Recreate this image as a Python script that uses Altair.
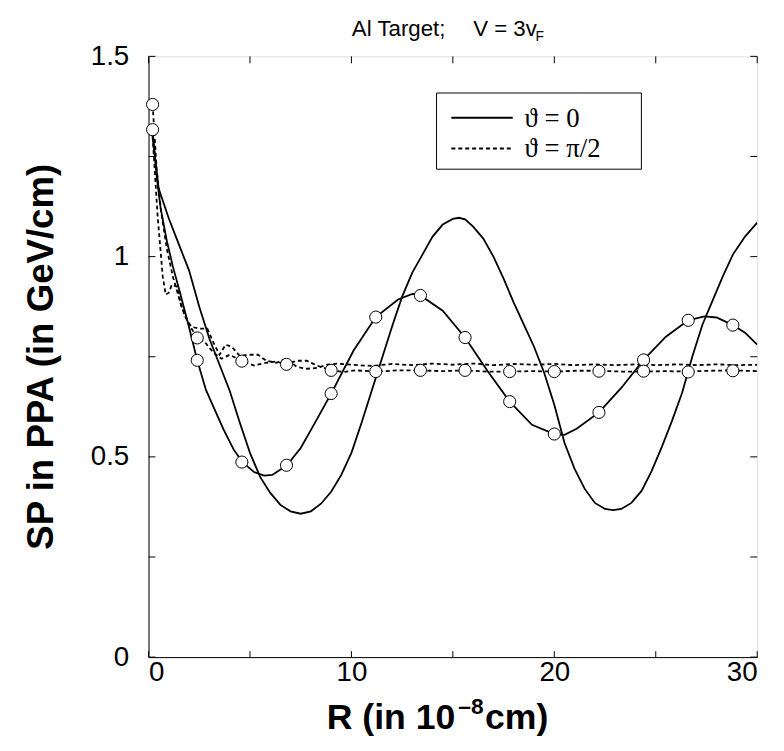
import altair as alt
import pandas as pd

# ---------------- data ----------------
# solid curve with circles (theta = 0, model 1)
xA = [0.2, 0.4, 0.6, 0.9, 1.2, 1.53, 2.0, 2.4, 2.83, 3.2, 3.7, 4.2, 4.63, 5.2, 5.7, 6.1,
      6.82, 7.5, 8.2, 9.0, 10.1, 11.2, 12.3, 13.0, 13.4, 14.5, 15.6, 16.7, 17.8, 18.9,
      20.0, 20.5, 21.1, 22.2, 23.3, 24.4, 25.5, 26.6, 27.4, 28.0, 28.8, 29.4, 30.0]
yA = [1.317, 1.20, 1.12, 1.04, 0.975, 0.914, 0.823, 0.741, 0.667, 0.625, 0.568, 0.518, 0.487, 0.462, 0.453, 0.455,
      0.479, 0.522, 0.585, 0.658, 0.765, 0.849, 0.893, 0.907, 0.903, 0.865, 0.798, 0.715, 0.638, 0.58,
      0.557, 0.555, 0.57, 0.611, 0.672, 0.742, 0.800, 0.841, 0.851, 0.848, 0.829, 0.81, 0.78]

# solid curve without circles (theta = 0, model 2)
xC = [0.2, 0.5, 1.0, 1.5, 2.0, 2.5, 3.0, 3.5, 4.0, 4.5, 5.0, 5.5, 6.0, 6.5, 7.0, 7.5, 8.0, 8.5,
      9.0, 9.5, 10.0, 10.5, 11.0, 11.5, 12.0, 12.5, 13.0, 13.5, 14.0, 14.5, 15.0, 15.3, 15.6,
      16.0, 16.5, 17.0, 17.5, 18.0, 18.5, 19.0, 19.5, 20.0, 20.5, 21.0, 21.5, 22.0, 22.5, 22.9,
      23.3, 23.8, 24.3, 24.8, 25.3, 25.8, 26.3, 26.8, 27.3, 27.8, 28.3, 28.8, 29.4, 30.0]
yC = [1.30, 1.17, 1.095, 1.03, 0.965, 0.875, 0.795, 0.73, 0.665, 0.585, 0.51, 0.45, 0.41, 0.38, 0.364, 0.358, 0.364, 0.383,
      0.413, 0.455, 0.51, 0.585, 0.665, 0.745, 0.825, 0.90, 0.96, 1.005, 1.05, 1.08, 1.094, 1.097, 1.093,
      1.075, 1.045, 1.0, 0.945, 0.885, 0.83, 0.775, 0.71, 0.63, 0.535, 0.47, 0.42, 0.385, 0.37, 0.367,
      0.37, 0.385, 0.415, 0.465, 0.525, 0.59, 0.66, 0.75, 0.83, 0.89, 0.95, 1.005, 1.05, 1.085]

# dashed curve without circles (theta = pi/2, model 2)
xB = [0.2, 0.45, 0.7, 0.85, 1.0, 1.15, 1.4, 1.6, 1.8, 2.1, 2.5, 2.9, 3.2, 3.5, 3.8, 4.1, 4.5, 4.9,
      5.4, 5.8, 6.3, 6.8, 7.3, 7.8, 8.3, 8.8, 9.3, 10, 11, 12, 13, 14, 15, 16, 17, 18, 19, 20,
      21, 22, 23, 24, 25, 26, 27, 28, 29, 30]
yB = [1.30, 1.10, 0.95, 0.905, 0.91, 0.93, 0.925, 0.88, 0.85, 0.825, 0.82, 0.82, 0.785, 0.755, 0.78, 0.775, 0.752, 0.755,
      0.755, 0.74, 0.735, 0.745, 0.725, 0.72, 0.722, 0.73, 0.733, 0.73, 0.727, 0.732, 0.729, 0.733, 0.73, 0.733, 0.729, 0.732, 0.73, 0.732,
      0.729, 0.731, 0.729, 0.731, 0.729, 0.731, 0.729, 0.731, 0.729, 0.73]

# dashed curve with circles (theta = pi/2, model 1)
xD = [0.2, 0.4, 0.6, 0.9, 1.2, 1.6, 2.0, 2.4, 2.8, 3.2, 3.6, 4.0, 4.6, 5.2, 5.8, 6.3, 6.8, 7.3,
      7.8, 8.3, 9.0, 9.6, 10.2, 11.2, 12.3, 13.4, 14.5, 15.6, 16.7, 17.8, 18.9, 20.0, 21.1, 22.2,
      23.3, 24.4, 25.5, 26.6, 27.7, 28.8, 30.0]
yD = [1.38, 1.22, 1.12, 1.02, 0.95, 0.88, 0.83, 0.797, 0.785, 0.76, 0.745, 0.755, 0.739, 0.728, 0.735, 0.738, 0.731, 0.74,
      0.74, 0.728, 0.716, 0.712, 0.716, 0.713, 0.716, 0.716, 0.714, 0.716, 0.713, 0.713, 0.714, 0.713, 0.715, 0.715,
      0.713, 0.713, 0.714, 0.713, 0.715, 0.716, 0.714]

# circle markers
circ_x = [0.2, 2.4, 4.6, 6.8, 9.0, 11.2, 13.4, 15.6, 17.8, 20.0, 22.2, 24.4, 26.6, 28.8]
circA_y = [1.317, 0.741, 0.487, 0.479, 0.658, 0.849, 0.903, 0.798, 0.638, 0.557, 0.611, 0.742, 0.841, 0.829]
circD_y = [1.38, 0.797, 0.739, 0.731, 0.716, 0.713, 0.716, 0.716, 0.713, 0.713, 0.714, 0.714, 0.712, 0.715]

x_ticks = [0, 5, 10, 15, 20, 25, 30]
y_ticks = [0, 0.25, 0.5, 0.75, 1.0, 1.25, 1.5]
x_labels = [0, 10, 20, 30]
y_labels = [0, 0.5, 1.0, 1.5]

W, H = 615, 607
SANS = "Liberation Sans, Arial, sans-serif"
SERIF = "Liberation Serif, Times New Roman, serif"

xs = alt.Scale(domain=[0, 30], nice=False, zero=False)
ys = alt.Scale(domain=[0, 1.5], nice=False, zero=False)
xaxis = alt.Axis(values=x_labels, ticks=False, grid=False, title=None, labelFontSize=28,
                 labelFont=SANS, labelColor="black", labelPadding=2, domainColor="black",
                 labelExpr="datum.value")
yaxis = alt.Axis(values=y_labels, ticks=False, grid=False, title=None, labelFontSize=28,
                 labelFont=SANS, labelColor="black", labelPadding=20, domainColor="black",
                 labelExpr="format(datum.value, '~g')")
xenc = alt.X("x:Q", scale=xs, axis=xaxis)
yenc = alt.Y("y:Q", scale=ys, axis=yaxis)

def line(xv, yv, dashed):
    kw = dict(color="black", strokeWidth=1.8, clip=True)
    if dashed:
        kw["strokeDash"] = [4, 3]
    return alt.Chart(pd.DataFrame({"x": xv, "y": yv})).mark_line(**kw).encode(x=xenc, y=yenc)

def circles(xv, yv):
    return alt.Chart(pd.DataFrame({"x": xv, "y": yv})).mark_point(
        shape="circle", size=150, filled=True, fill="white", stroke="black", strokeWidth=1, opacity=1
    ).encode(x=xenc, y=yenc)

one = pd.DataFrame({"d": [0]})

def text(t, x, y, size, font=SANS, weight="normal", align="left", baseline="alphabetic", angle=0):
    kw = dict(text=t, fontSize=size, font=font, fontWeight=weight, align=align,
              baseline=baseline, color="black")
    if angle:
        kw["angle"] = angle
    return alt.Chart(one).mark_text(**kw).encode(x=alt.value(x), y=alt.value(y))

xt = pd.DataFrame({"x": x_ticks})
yt = pd.DataFrame({"y": y_ticks})
ticks = [
    alt.Chart(xt).mark_rule(color="black", strokeWidth=1).encode(x=xenc, y=alt.value(H), y2=alt.value(H - 6)),
    alt.Chart(xt).mark_rule(color="black", strokeWidth=1).encode(x=xenc, y=alt.value(0), y2=alt.value(7)),
    alt.Chart(yt).mark_rule(color="black", strokeWidth=1).encode(y=yenc, x=alt.value(0), x2=alt.value(7)),
    alt.Chart(yt).mark_rule(color="black", strokeWidth=1).encode(y=yenc, x=alt.value(W), x2=alt.value(W - 7)),
]

legend = [
    alt.Chart(one).mark_rect(fill="white", stroke="black", strokeWidth=1).encode(
        x=alt.value(291), x2=alt.value(498), y=alt.value(37), y2=alt.value(114)),
    alt.Chart(one).mark_rule(color="black", strokeWidth=2).encode(
        x=alt.value(306), x2=alt.value(368), y=alt.value(62)),
    alt.Chart(one).mark_rule(color="black", strokeWidth=2, strokeDash=[4, 3]).encode(
        x=alt.value(306), x2=alt.value(368), y=alt.value(93)),
    text("\u03d1 = 0", 380, 63, 27, font=SERIF, baseline="middle"),
    text("\u03d1 = \u03c0/2", 380, 94, 27, font=SERIF, baseline="middle"),
]

labels = [
    text("Al Target;", 300, -21, 22.5, align="right"),
    text("V = 3v", 328, -21, 22.5),
    text("F", 391, -16, 14),
    text("R (in 10", 310, 680, 36, weight="bold", align="right"),
    text("\u20138", 313, 664, 23, weight="bold"),
    text("cm)", 340, 680, 36, weight="bold"),
    text("SP in PPA (in GeV/cm)", -108, H / 2, 37, weight="bold", align="center",
         baseline="middle", angle=270),
]

chart = alt.layer(
    line(xC, yC, False),
    line(xA, yA, False),
    line(xB, yB, True),
    line(xD, yD, True),
    circles(circ_x, circA_y),
    circles(circ_x, circD_y),
    *ticks,
    *legend,
    *labels,
).properties(
    width=W, height=H,
    autosize=alt.AutoSizeParams(type="none"),
    padding={"left": 142, "top": 45, "right": 19, "bottom": 91},
).configure_view(stroke="black", strokeWidth=1).configure(background="white")

chart.save("out.html", embed_options={"renderer": "svg", "actions": False})
